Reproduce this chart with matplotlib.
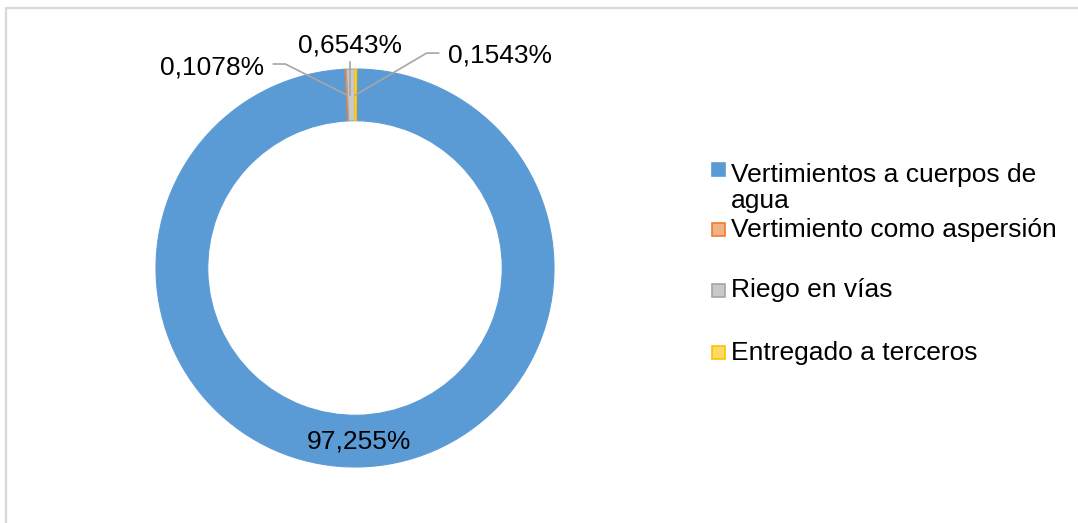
import numpy as np
import matplotlib.pyplot as plt
from matplotlib.patches import Rectangle
from matplotlib.lines import Line2D

plt.rcParams['font.family'] = ['Liberation Sans', 'DejaVu Sans']

# ---------------- data ----------------
categories = ['Vertimientos a cuerpos de\nagua', 'Vertimiento como aspersión',
              'Riego en vías', 'Entregado a terceros']
values = [97.255, 0.1078, 0.6543, 0.1543]
value_labels = ['97,255%', '0,1078%', '0,6543%', '0,1543%']
fill_colors = ['#5b9bd5', '#f4b183', '#c9c9c9', '#ffd966']
edge_colors = ['#5b9bd5', '#ed7d31', '#a5a5a5', '#ffc000']

W, H = 1078, 523
fig = plt.figure(figsize=(W / 100, H / 100), dpi=100)

# light grey chart frame: only left and top edges fall inside the image
fx, fy = 6 / W, (H - 7.5) / H
fig.add_artist(Line2D([fx, fx, 1.0], [0.0, fy, fy], transform=fig.transFigure,
                      color='#d9d9d9', linewidth=1.6))

# doughnut axes: centre (355, 268) px, radius 199 px
cx, cy, R = 355, 268, 199
ax = fig.add_axes([(cx - R) / W, (H - cy - R) / H, 2 * R / W, 2 * R / H])
wedges, _ = ax.pie(values, startangle=89.5, counterclock=False,
                   colors=fill_colors, radius=1,
                   wedgeprops=dict(width=0.26, linewidth=0.8))
for w, ec in zip(wedges, edge_colors):
    w.set_edgecolor(ec)
ax.set_xlim(-1, 1)
ax.set_ylim(-1, 1)
ax.axis('off')

fs = 19
r_mid = 0.87


def mid_point(w, r=r_mid):
    ang = np.deg2rad((w.theta1 + w.theta2) / 2)
    return r * np.cos(ang), r * np.sin(ang)


# big slice label inside the ring
mx, my = mid_point(wedges[0])
ax.text(mx, my, value_labels[0], ha='center', va='center', fontsize=fs)

# small slices: label position, leader line elbow points (data coords)
label_pos = [(-0.72, 1.01), (-0.025, 1.12), (0.73, 1.07)]
leader_pts = [[(-0.41, 1.025), (-0.35, 1.025)],
              [(-0.025, 1.035)],
              [(0.42, 1.08), (0.36, 1.08)]]
for i in range(1, 4):
    tx, ty = label_pos[i - 1]
    ax.text(tx, ty, value_labels[i], ha='center', va='center', fontsize=fs,
            clip_on=False)
    ex, ey = mid_point(wedges[i])
    pts = leader_pts[i - 1] + [(ex, ey)]
    if i == 2:
        pts = [(pts[0][0], pts[0][1]), (pts[0][0], ey)]
    xs, ys = zip(*pts)
    ax.plot(xs, ys, color='#a6a6a6', linewidth=1.2, clip_on=False)

# legend drawn by hand to follow the Excel layout
# baseline (px from top) of the last text line, and top of each square
baselines = [208, 237, 297, 360]
sq_tops = [163, 223, 284, 346]
sq = 13
for lab, fc, ec, b, t in zip(categories, fill_colors, edge_colors,
                             baselines, sq_tops):
    fig.patches.append(Rectangle((712 / W, (H - t - sq) / H), sq / W, sq / H,
                                 transform=fig.transFigure, facecolor=fc,
                                 edgecolor=ec, linewidth=1.2))
    fig.text(731 / W, (H - b) / H, lab, ha='left', va='baseline',
             fontsize=fs, linespacing=1.08)

fig.savefig('out.png', dpi=100)
